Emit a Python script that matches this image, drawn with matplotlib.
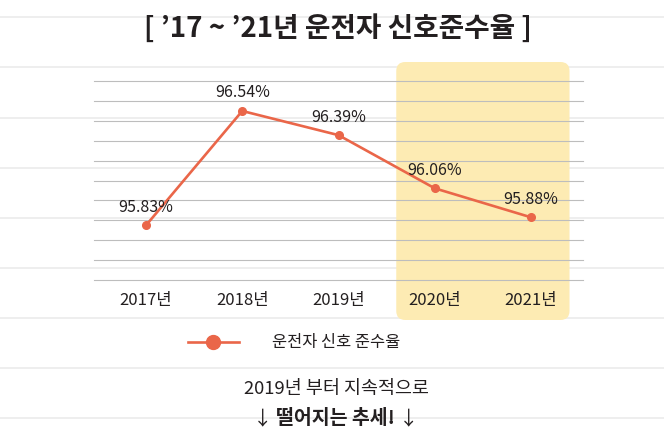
import numpy as np
import matplotlib

matplotlib.use("Agg")
import matplotlib.pyplot as plt  # noqa: E402
from matplotlib.lines import Line2D  # noqa: E402
from matplotlib.patches import FancyBboxPatch  # noqa: E402
from matplotlib.transforms import IdentityTransform  # noqa: E402

plt.rcParams["font.family"] = ["Noto Sans CJK KR", "DejaVu Sans"]

# ---------------------------------------------------------------- data
years = ["2017년", "2018년", "2019년", "2020년", "2021년"]
rates = [95.83, 96.54, 96.39, 96.06, 95.88]
highlight = [False, False, False, True, True]
title = "[ \u201917 ~ \u201921년 운전자 신호준수율 ]"
series_name = "운전자 신호 준수율"
note_1 = "2019년 부터 지속적으로"
note_2 = "떨어지는 추세!"

W, H = 664, 437
LINE = "#ea6649"
DARK = "#231f20"
GRID = "#bdbdbd"
BOX = "#fdebb3"


def fx(px):
    return px / W


def fy(py):
    return 1 - py / H


fig = plt.figure(figsize=(W / 100, H / 100), dpi=100)
fig.patch.set_facecolor("white")

# faint notebook lines across the whole picture
for py in [17, 67, 118, 168, 218, 268, 318, 368, 418]:
    fig.add_artist(Line2D([0, 1], [fy(py), fy(py)], color="#ededed", lw=1.3,
                          transform=fig.transFigure, zorder=-5))

ax = fig.add_axes([fx(94), fy(280), fx(583) - fx(94), fy(81) - fy(280)])
ax.patch.set_visible(False)
for s in ax.spines.values():
    s.set_visible(False)

x = np.arange(len(years))
ylo, yhi = 95.491, 96.726
ax.set_xlim(-0.54, len(years) - 1 + 0.54)
ax.set_ylim(ylo, yhi)
for gy in np.linspace(ylo, yhi, 11):
    ax.axhline(gy, color=GRID, lw=0.8, zorder=1, clip_on=False)

# highlight box behind the last two years
hi_idx = [i for i, h in enumerate(highlight) if h]
x0 = ax.transData.transform((hi_idx[0] - 0.4, 0))[0]
x1 = ax.transData.transform((hi_idx[-1] + 0.4, 0))[0]
ax.add_patch(FancyBboxPatch((x0, H - 320), x1 - x0, 320 - 62,
                            boxstyle="round,pad=0,rounding_size=9",
                            fc=BOX, ec="none", transform=IdentityTransform(),
                            clip_on=False, zorder=0.5))

ax.plot(x, rates, color=LINE, lw=1.9, marker="o", markersize=5.5, zorder=3)

for xi, v, h in zip(x, rates, highlight):
    ax.annotate(f"{v:.2f}%", (xi, v), xytext=(0, 13), textcoords="offset points",
                ha="center", va="center", fontsize=11.5, color=DARK,
                fontweight="medium" if h else "light", zorder=4)

ax.set_xticks(x)
ax.set_xticklabels(years, fontsize=12, color=DARK)
ax.tick_params(axis="x", length=0, pad=9)
ax.set_yticks([])

fig.text(fx(338), fy(28), title, ha="center", va="center", fontsize=20,
         fontweight="bold", color=DARK)

handle = Line2D([], [], color=LINE, lw=1.9, marker="o", markersize=10)
fig.legend([handle], [series_name], loc="center", bbox_to_anchor=(fx(294), fy(343)),
           frameon=False, prop={"size": 11.8},
           handlelength=3.1, handletextpad=2.0, labelcolor=DARK)

fig.text(fx(336), fy(389), note_1, ha="center", va="center", fontsize=13.3,
         color=DARK)
fig.text(fx(335), fy(419), note_2, ha="center", va="center", fontsize=14,
         fontweight="bold", color=DARK)
fig.text(fx(263), fy(419), "\u2193", ha="center", va="center", fontsize=14,
         color=DARK)
fig.text(fx(409), fy(419), "\u2193", ha="center", va="center", fontsize=14,
         color=DARK)

fig.savefig("out.png", dpi=100, facecolor="white")
